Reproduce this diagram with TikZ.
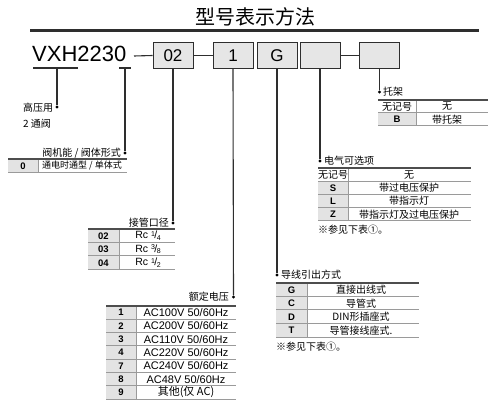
\documentclass[tikz,border=0pt]{standalone}
\usepackage{fontspec}
\setmainfont{Liberation Sans}
\newfontfamily\cjk{Noto Sans CJK SC}
\usetikzlibrary{calc}

\definecolor{boxgray}{HTML}{E6E6E6}
\definecolor{keygray}{HTML}{E3E3E3}
\definecolor{rulegray}{HTML}{9A9A9A}
\definecolor{inkgray}{HTML}{2E2E2E}

% 管螺纹尺寸的小分数
\newcommand{\pipefrac}[2]{\raisebox{0.45ex}{\fontsize{7}{7}\selectfont#1}\kern-0.05em/\kern-0.05em\raisebox{-0.3ex}{\fontsize{7}{7}\selectfont#2}}

\begin{document}
\begin{tikzpicture}[x=1pt, y=-1pt,
  selbox/.style={draw=inkgray, line width=0.9pt, fill=boxgray, minimum width=40pt,
    minimum height=26pt, inner sep=0pt, font=\fontsize{17}{17}\selectfont},
  lead/.style={line width=1.1pt, inkgray},
  knob/.style={circle, fill=black, inner sep=0pt, minimum size=3.2pt},
  tag/.style={font=\cjk\fontsize{10}{10}\selectfont, inner sep=1pt},
  cell/.style={font=\cjk\fontsize{10}{10}\selectfont, inner sep=0pt},
  keytxt/.style={font=\bfseries\fontsize{9.5}{9.5}\selectfont, inner sep=0pt},
  toprule/.style={line width=1.3pt, inkgray!85},
  rowrule/.style={line width=1pt, rulegray},
  colrule/.style={line width=0.8pt, rulegray}]
  \useasboundingbox (0,0) rectangle (488,409);

  % 标题与粗线
  \node[font=\cjk\fontsize{20}{20}\selectfont] (title) at (255,17) {型号表示方法};
  \coordinate (ruleL) at (30,31);
  \coordinate (ruleR) at (479,31);
  \draw[line width=3pt, inkgray] (ruleL) -- (ruleR);

  % 型号与选择框
  \node[anchor=base west, inner sep=0pt, font=\fontsize{22}{22}\selectfont] (vxh) at (32,62) {VXH2230};
  \node[selbox] (b02) at (173,55.5) {02};
  \node[selbox] (b1)  at (233,55.5) {1};
  \node[selbox] (bG)  at (277,55.5) {G};
  \node[selbox] (bE)  at (320,55.5) {};
  \node[selbox] (bB)  at (379.5,55.5) {};
  \coordinate (dashL) at (134,56);
  \draw[lead] (dashL) -- (b02.west);
  \draw[lead] (b02.east) -- (b1.west);
  \draw[lead] (bE.east) -- (bB.west);

  % 型号下划线
  \coordinate (uA) at (33,68);
  \coordinate (uB) at (78,68);
  \coordinate (uC) at (119,68);
  \coordinate (uD) at (131,68);
  \draw[lead] (uA) -- (uB);
  \draw[lead] (uC) -- (uD);

  % 引出线端点
  \node[knob] (kV) at (57,107) {};
  \node[knob] (kF) at (125,153) {};
  \node[knob] (kP) at (173,223) {};
  \node[knob] (kU) at (233.5,297) {};
  \node[knob] (kG) at (277,275) {};
  \node[knob] (kE) at (320,161) {};
  \node[knob] (kB) at (379.5,92) {};
  \draw[lead] (57,68) -- (kV);
  \draw[lead] (125,68) -- (kF);
  \draw[lead] (b02.south) -- (kP);
  \draw[lead] (b1.south) -- (kU);
  \draw[lead] (bG.south) -- (kG);
  \draw[lead] (bE.south) -- (kE);
  \draw[lead] (bB.south) -- (kB);

  % 高压用 2通阀
  \node[tag, anchor=west] (tV1) at (22,108) {高压用};
  \node[tag, anchor=west] (tV2) at (22,124) {2 通阀};

  % 阀机能 / 阀体形式
  \node[tag, anchor=east] (tF) at (122,153) {阀机能 / 阀体形式};
  \fill[keygray] (8,159) rectangle (38,173);
  \draw[rowrule] (8,173) -- (127,173);
  \draw[colrule] (38,159) -- (38,173);
  \draw[toprule] (8,159) -- (127,159);
  \node[keytxt] (fk0) at (23,166) {0};
  \node[cell, anchor=west, font=\cjk\fontsize{9}{9}\selectfont] (fv0) at (42,166) {通电时通型 / 单体式};

  % 接管口径
  \node[tag, anchor=east] (tP) at (170,223) {接管口径};
  \fill[keygray] (88,229) rectangle (119,269.5);
  \foreach \k/\v [count=\i] in {02/{Rc \pipefrac{1}{4}}, 03/{Rc \pipefrac{3}{8}}, 04/{Rc \pipefrac{1}{2}}} {
    \draw[rowrule] (88,{229+13.5*\i}) -- (175,{229+13.5*\i});
    \node[keytxt] (pk\i) at (103.5,{229+13.5*(\i-0.5)}) {\k};
    \node[cell, font=\fontsize{10.5}{10.5}\selectfont] (pv\i) at (148,{229+13.5*(\i-0.5)}) {\v};
  }
  \draw[colrule] (119,229) -- (119,269.5);
  \draw[toprule] (88,229) -- (175,229);

  % 额定电压
  \node[tag, anchor=east] (tU) at (230,297) {额定电压};
  \fill[keygray] (106,306) rectangle (136,399);
  \foreach \k/\v [count=\i] in {1/{AC100V 50/60Hz}, 2/{AC200V 50/60Hz}, 3/{AC110V 50/60Hz},
      4/{AC220V 50/60Hz}, 7/{AC240V 50/60Hz}, 8/{AC48V 50/60Hz}, 9/{{\cjk 其他(仅 AC)}}} {
    \draw[rowrule] (106,{306+13.3*\i}) -- (236,{306+13.3*\i});
    \node[keytxt] (uk\i) at (121,{306+13.3*(\i-0.5)}) {\k};
    \node[cell, font=\fontsize{11}{11}\selectfont] (uv\i) at (186,{306+13.3*(\i-0.5)}) {\v};
  }
  \draw[colrule] (136,306) -- (136,399);
  \draw[toprule] (106,306) -- (236,306);

  % 导线引出方式
  \node[tag, anchor=west] (tG) at (280,275) {导线引出方式};
  \fill[keygray] (276,283) rectangle (307,337);
  \foreach \k/\v [count=\i] in {G/直接出线式, C/导管式, D/DIN形插座式, T/导管接线座式.} {
    \draw[rowrule] (276,{283+13.5*\i}) -- (419,{283+13.5*\i});
    \node[keytxt] (gk\i) at (291.5,{283+13.5*(\i-0.5)}) {\k};
    \node[cell] (gv\i) at (361,{283+13.5*(\i-0.5)}) {\v};
  }
  \draw[colrule] (307,283) -- (307,337);
  \draw[toprule] (276,283) -- (419,283);
  \node[cell, anchor=west] (gnote) at (276,347) {※参见下表①。};

  % 电气可选项
  \node[tag, anchor=west] (tE) at (323,161) {电气可选项};
  \fill[keygray] (318,181.25) rectangle (348,221);
  \draw[rowrule] (318,181.25) -- (471,181.25);
  \node[cell] (ek0) at (333,174.6) {无记号};
  \node[cell] (ev0) at (409,174.6) {无};
  \foreach \k/\v [count=\i] in {S/带过电压保护, L/带指示灯, Z/带指示灯及过电压保护} {
    \draw[rowrule] (318,{181.25+13.25*\i}) -- (471,{181.25+13.25*\i});
    \node[keytxt] (ek\i) at (333,{181.25+13.25*(\i-0.5)}) {\k};
    \node[cell] (ev\i) at (409,{181.25+13.25*(\i-0.5)}) {\v};
  }
  \draw[colrule] (348,168) -- (348,221);
  \draw[toprule] (318,168) -- (471,168);
  \node[cell, anchor=west] (enote) at (318,230) {※参见下表①。};

  % 托架
  \node[tag, anchor=west] (tB) at (382,92) {托架};
  \fill[keygray] (378,113) rectangle (416,126);
  \draw[rowrule] (378,113) -- (488,113);
  \draw[rowrule] (378,126) -- (488,126);
  \draw[colrule] (416,100) -- (416,126);
  \draw[toprule] (378,100) -- (488,100);
  \node[cell] (bk0) at (397,106.5) {无记号};
  \node[cell] (bv0) at (447,106.5) {无};
  \node[keytxt] (bk1) at (397,119.5) {B};
  \node[cell] (bv1) at (447,119.5) {带托架};
\end{tikzpicture}
\end{document}
